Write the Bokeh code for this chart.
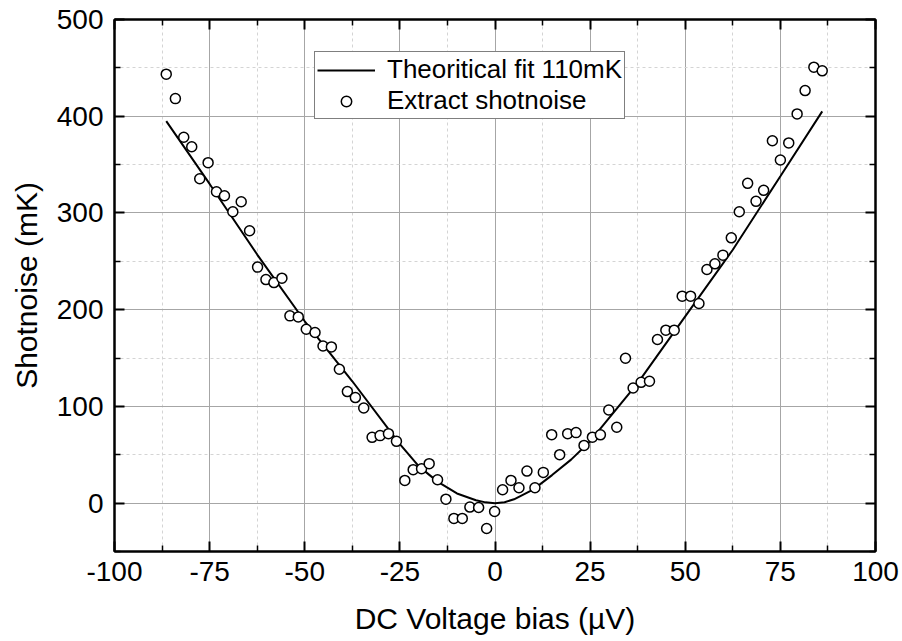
from bokeh.plotting import figure
from bokeh.models import (LinearAxis, Range1d, FixedTicker, Legend, LegendItem,
                          ColumnDataSource, CustomJSTickFormatter)
from bokeh.embed import file_html
from bokeh.resources import INLINE

# ---- data ----
shot_x = [-86.4, -84.0, -81.8, -79.7, -77.6, -75.4, -73.2, -71.1, -68.9, -66.7,
          -64.5, -62.4, -60.2, -58.1, -56.0, -53.9, -51.7, -49.6, -47.3, -45.2,
          -43.0, -40.9, -38.8, -36.7, -34.5, -32.3, -30.2, -28.0, -25.9, -23.7,
          -21.5, -19.3, -17.3, -15.1, -12.9, -10.8, -8.6, -6.6, -4.3, -2.2,
          -0.1, 2.0, 4.2, 6.3, 8.4, 10.5, 12.7, 14.9, 17.0, 19.1,
          21.3, 23.4, 25.6, 27.7, 29.9, 32.0, 34.3, 36.3, 38.4, 40.6,
          42.7, 44.9, 47.1, 49.2, 51.4, 53.6, 55.7, 57.8, 59.9, 62.1,
          64.2, 66.4, 68.6, 70.6, 72.9, 75.0, 77.2, 79.4, 81.5, 83.8, 86.0]
shot_y = [443.5, 418.2, 378.3, 368.5, 335.4, 352.0, 321.9, 317.8, 301.2, 311.6,
          281.6, 244.0, 231.1, 228.0, 232.6, 193.6, 192.5, 179.8, 176.4, 162.5,
          161.5, 138.4, 115.3, 109.1, 98.3, 68.0, 69.8, 71.8, 63.9, 23.5,
          34.6, 35.6, 40.8, 24.2, 4.1, -15.8, -15.8, -4.1, -4.5, -26.2,
          -8.6, 13.9, 23.5, 15.9, 33.1, 15.9, 31.8, 70.8, 50.1, 71.8,
          72.9, 59.7, 68.2, 70.6, 96.3, 78.4, 149.8, 119.0, 124.9, 126.0,
          169.2, 178.8, 178.8, 214.0, 214.0, 206.4, 241.6, 247.4, 256.4, 274.3,
          301.2, 330.6, 312.0, 323.4, 374.7, 354.8, 372.4, 402.4, 426.5, 450.7, 446.9]

fit_x = [-86.4, -75, -62.5, -50, -37.5, -25, -20, -15, -10, -5, -2.5, 0,
         2.5, 5, 10, 15, 20, 25, 37.5, 50, 62.5, 75, 86]
fit_y = [395, 330, 257, 188, 126, 61, 38, 22, 10, 3, 0.8, 0,
         1, 4, 14, 29, 45, 64, 124, 193, 262, 338, 405]

x_ticks = [-100, -75, -50, -25, 0, 25, 50, 75, 100]
x_tick_labels = ["-100", "-75", "-50", "-25", "0", "25", "50", "75", "100"]
x_minor = [-87.5, -62.5, -37.5, -12.5, 12.5, 37.5, 62.5, 87.5]
y_ticks = [0, 100, 200, 300, 400, 500]
y_tick_labels = ["0", "100", "200", "300", "400", "500"]
y_minor = [-50, 50, 150, 250, 350, 450]

FONT = "Liberation Sans"

p = figure(width=900, height=640, x_range=Range1d(-100, 100), y_range=Range1d(-50, 500),
           output_backend="svg", toolbar_location=None,
           min_border_left=114, min_border_right=25, min_border_top=19, min_border_bottom=89)
p.outline_line_color = "black"
p.outline_line_width = 2
p.background_fill_color = "white"
p.border_fill_color = "white"

xt = FixedTicker(ticks=x_ticks, minor_ticks=x_minor)
yt = FixedTicker(ticks=y_ticks, minor_ticks=y_minor)

def style_axis(ax, labels=True):
    ax.axis_line_width = 2
    ax.axis_line_color = "black"
    ax.major_tick_in = 10
    ax.major_tick_out = 0
    ax.minor_tick_in = 6
    ax.minor_tick_out = 0
    ax.major_tick_line_width = 2
    ax.minor_tick_line_width = 1.5
    if labels:
        ax.major_label_text_font = FONT
        ax.major_label_text_font_size = "28px"
        ax.major_label_text_color = "black"
        ax.axis_label_text_font = FONT
        ax.axis_label_text_font_size = "30px"
        ax.axis_label_text_font_style = "normal"
        ax.axis_label_text_color = "black"

p.xaxis.ticker = xt
p.yaxis.ticker = yt
p.xaxis.major_label_overrides = dict(zip(x_ticks, x_tick_labels))
p.yaxis.major_label_overrides = dict(zip(y_ticks, y_tick_labels))
style_axis(p.xaxis[0])
style_axis(p.yaxis[0])
p.xaxis.axis_label = "DC Voltage bias (µV)"
p.yaxis.axis_label = "Shotnoise (mK)"
p.xaxis.major_label_standoff = 10
p.yaxis.major_label_standoff = 11
p.xaxis.axis_label_standoff = 18
p.yaxis.axis_label_standoff = 11

empty = CustomJSTickFormatter(code="return ''")
top = LinearAxis(ticker=FixedTicker(ticks=x_ticks, minor_ticks=x_minor), formatter=empty,
                 major_label_text_font_size="0px", major_label_standoff=0)
right = LinearAxis(ticker=FixedTicker(ticks=y_ticks, minor_ticks=y_minor), formatter=empty,
                   major_label_text_font_size="0px", major_label_standoff=0)
style_axis(top, labels=False)
style_axis(right, labels=False)
p.add_layout(top, "above")
p.add_layout(right, "right")

for g, t in ((p.xgrid, xt), (p.ygrid, yt)):
    g.ticker = t
    g.grid_line_color = "#a6a6a6"
    g.grid_line_width = 1
    g.minor_grid_line_color = "#d4d4d4"
    g.minor_grid_line_dash = "3 3"
    g.minor_grid_line_width = 1

fit_src = ColumnDataSource(dict(x=fit_x, y=fit_y))
pts_src = ColumnDataSource(dict(x=shot_x, y=shot_y))

fit_r = p.line("x", "y", source=fit_src, line_color="black", line_width=2)
pts_r = p.scatter("x", "y", source=pts_src, marker="circle", size=10, fill_color="white",
                  line_color="black", line_width=1.5)

legend = Legend(items=[LegendItem(label="Theoritical fit 110mK", renderers=[fit_r]),
                       LegendItem(label="Extract shotnoise", renderers=[pts_r])],
                location=(200, 432))
legend.label_text_font = FONT
legend.label_text_font_size = "26px"
legend.label_text_color = "black"
legend.border_line_color = "black"
legend.border_line_width = 1
legend.background_fill_color = "white"
legend.background_fill_alpha = 1
legend.glyph_width = 58
legend.glyph_height = 26
legend.label_height = 26
legend.label_standoff = 12
legend.padding = 2
legend.spacing = 0
legend.margin = 0
p.add_layout(legend)

open("out.html", "w").write(file_html(p, INLINE))
